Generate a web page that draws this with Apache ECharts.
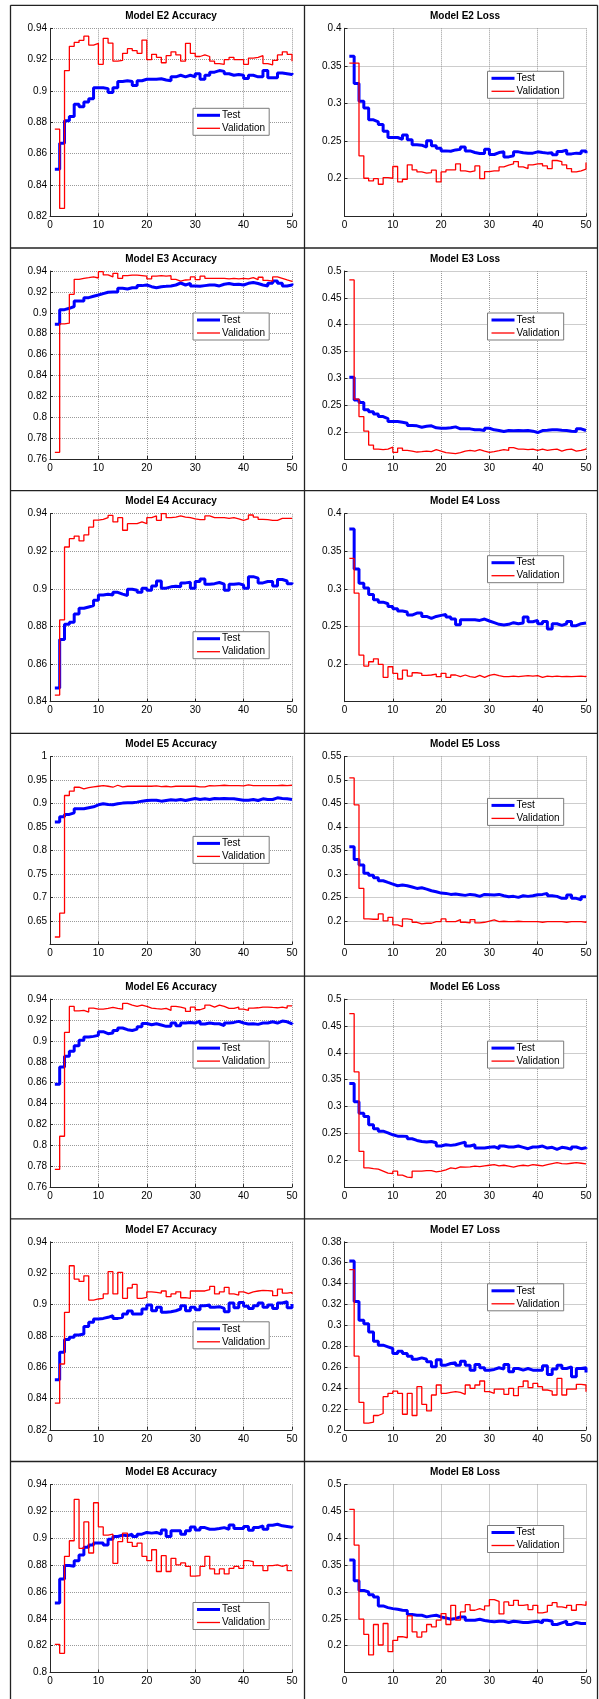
<!DOCTYPE html>
<html>
<head>
<meta charset="utf-8">
<script src="https://cdn.jsdelivr.net/npm/echarts@6/dist/echarts.min.js"></script>
<style>
  html, body { margin: 0; padding: 0; background: #fff; }
  #chart { width: 599px; height: 1699px; }
</style>
</head>
<body>
<div id="chart"></div>
<script>
// epochs 1..50
var epochs = [1,2,3,4,5,6,7,8,9,10,11,12,13,14,15,16,17,18,19,20,21,22,23,24,25,
  26,27,28,29,30,31,32,33,34,35,36,37,38,39,40,41,42,43,44,45,46,47,48,49,50];

var models = ['E2', 'E3', 'E4', 'E5', 'E6', 'E7', 'E8'];

// accuracy axes (min, max, tick step)
var accMin  = [0.82, 0.76, 0.84, 0.6, 0.76, 0.82, 0.8];
var accMax  = [0.94, 0.94, 0.94, 1, 0.94, 0.94, 0.94];
var accStep = [0.02, 0.02, 0.02, 0.05, 0.02, 0.02, 0.02];
var accMinLabel = [true, true, true, false, true, true, true];

// loss axes
var lossMin  = [0.15, 0.15, 0.15, 0.15, 0.15, 0.2, 0.15];
var lossMax  = [0.4, 0.5, 0.4, 0.55, 0.5, 0.38, 0.5];
var lossStep = [0.05, 0.05, 0.05, 0.05, 0.05, 0.02, 0.05];
var lossMinLabel = [false, false, false, false, false, true, false];

var e2AccTest = [0.850,0.8667,0.881,0.8837,0.8916,0.890,0.893,0.895,0.902,0.902,0.9015,0.899,0.902,0.906,0.9065,0.906,0.9035,0.9065,0.9075,0.9075,0.9075,0.9078,0.907,0.9065,0.909,0.910,0.909,0.910,0.909,0.911,0.9075,0.910,0.912,0.913,0.9125,0.911,0.910,0.9105,0.910,0.908,0.910,0.909,0.909,0.913,0.9085,0.9085,0.9115,0.911,0.9105,0.9115];
var e2AccVal = [0.8756,0.825,0.913,0.9285,0.931,0.9323,0.935,0.9293,0.9304,0.917,0.9336,0.9306,0.919,0.9195,0.924,0.927,0.9257,0.924,0.9325,0.920,0.9234,0.9215,0.918,0.9225,0.925,0.923,0.919,0.9304,0.924,0.922,0.923,0.922,0.919,0.9175,0.917,0.920,0.9215,0.920,0.920,0.917,0.921,0.9215,0.9225,0.9175,0.9166,0.9195,0.923,0.925,0.9234,0.919];
var e2LossTest = [0.3627,0.3267,0.303,0.294,0.2783,0.2757,0.272,0.263,0.2548,0.2548,0.2525,0.258,0.2517,0.245,0.2446,0.242,0.2504,0.2437,0.2406,0.237,0.2366,0.2383,0.239,0.242,0.237,0.2348,0.2335,0.2335,0.239,0.2322,0.2348,0.2357,0.229,0.2304,0.2357,0.2344,0.234,0.234,0.2357,0.2348,0.234,0.2344,0.2317,0.2361,0.238,0.233,0.234,0.2335,0.237,0.234];
var e2LossVal = [0.3538,0.3538,0.2304,0.2006,0.197,0.200,0.1926,0.2015,0.2006,0.2162,0.1957,0.1993,0.2184,0.2117,0.209,0.2073,0.2082,0.2113,0.1957,0.209,0.2117,0.2117,0.2197,0.2104,0.209,0.2104,0.217,0.200,0.2095,0.2104,0.2104,0.2157,0.218,0.2197,0.2228,0.2157,0.2135,0.2184,0.2197,0.220,0.217,0.2135,0.2242,0.2228,0.2184,0.2135,0.209,0.2104,0.2126,0.2215];

var e3AccTest = [0.889,0.903,0.9043,0.906,0.9113,0.9113,0.9145,0.9158,0.917,0.9183,0.9196,0.920,0.920,0.9234,0.9228,0.924,0.924,0.926,0.9266,0.925,0.924,0.925,0.9253,0.9257,0.9266,0.9285,0.9266,0.9282,0.9257,0.9253,0.926,0.9266,0.9266,0.9257,0.9273,0.928,0.927,0.9273,0.9266,0.9282,0.929,0.928,0.9266,0.9257,0.9282,0.9304,0.9282,0.9257,0.9266,0.928];
var e3AccVal = [0.7664,0.8893,0.890,0.9177,0.932,0.933,0.9336,0.9343,0.9333,0.9394,0.9362,0.9343,0.9378,0.933,0.9355,0.936,0.936,0.9355,0.935,0.9324,0.935,0.9355,0.935,0.9355,0.932,0.9304,0.9314,0.9317,0.9343,0.9317,0.935,0.933,0.933,0.933,0.933,0.9324,0.933,0.9324,0.933,0.9324,0.9336,0.9317,0.934,0.931,0.9304,0.9343,0.933,0.9314,0.930,0.931];
var e3LossTest = [0.302,0.2597,0.2554,0.2418,0.238,0.2338,0.2289,0.2252,0.2197,0.2197,0.2184,0.2166,0.2123,0.2117,0.2092,0.211,0.2117,0.208,0.2073,0.2073,0.208,0.2098,0.2061,0.2061,0.2061,0.2043,0.2043,0.203,0.2073,0.2043,0.203,0.2012,0.203,0.2024,0.203,0.2024,0.203,0.2018,0.1993,0.203,0.2036,0.2043,0.2043,0.2036,0.203,0.2018,0.2012,0.2061,0.203,0.2018];
var e3LossVal = [0.4834,0.2616,0.2289,0.2018,0.1759,0.1685,0.1673,0.1685,0.1722,0.1624,0.1704,0.166,0.1648,0.163,0.1636,0.1648,0.1636,0.1673,0.1648,0.1617,0.1611,0.1599,0.1617,0.1648,0.166,0.1648,0.1673,0.1648,0.1624,0.1636,0.1654,0.1673,0.166,0.171,0.1685,0.1685,0.1673,0.1685,0.166,0.1685,0.166,0.1673,0.1685,0.1648,0.1673,0.1685,0.1648,0.166,0.1685,0.170];

var e4AccTest = [0.8473,0.8731,0.8812,0.8823,0.8866,0.8897,0.8904,0.8911,0.894,0.8968,0.8972,0.8968,0.8982,0.8972,0.8965,0.8998,0.8993,0.8982,0.9004,0.8993,0.9016,0.9042,0.9004,0.9011,0.9014,0.9011,0.9032,0.9035,0.9004,0.9039,0.9053,0.9025,0.9028,0.9034,0.9025,0.8993,0.9025,0.9028,0.9021,0.9004,0.9065,0.9057,0.9032,0.9039,0.9039,0.9016,0.905,0.9042,0.9028,0.9034];
var e4AccVal = [0.8435,0.8835,0.9223,0.9267,0.9281,0.9255,0.9287,0.9329,0.9366,0.937,0.9379,0.9391,0.9356,0.9379,0.9312,0.9347,0.9347,0.9356,0.9347,0.9379,0.9388,0.9365,0.94,0.9379,0.9382,0.9388,0.9382,0.9379,0.9372,0.9368,0.9368,0.9388,0.9379,0.9379,0.9379,0.9375,0.9379,0.9373,0.9365,0.9372,0.9393,0.9382,0.937,0.9368,0.9365,0.9365,0.9375,0.9375,0.9375,0.9375];
var e4LossTest = [0.3797,0.3264,0.3075,0.3013,0.2925,0.2855,0.2824,0.2802,0.2767,0.2736,0.2705,0.2692,0.2652,0.2678,0.2678,0.2634,0.2608,0.2634,0.2648,0.2661,0.2626,0.2599,0.2524,0.259,0.259,0.259,0.2581,0.2599,0.2573,0.2551,0.2529,0.252,0.2529,0.2551,0.2537,0.2546,0.2626,0.2564,0.2581,0.2537,0.2568,0.2467,0.2537,0.2515,0.2537,0.2568,0.2511,0.2537,0.2546,0.2551];
var e4LossVal = [0.3405,0.2943,0.2119,0.1974,0.2031,0.207,0.1996,0.1824,0.1965,0.1877,0.1802,0.1921,0.1841,0.1885,0.1877,0.185,0.1855,0.1868,0.1833,0.1877,0.1824,0.1855,0.1833,0.1855,0.1833,0.1824,0.185,0.1824,0.185,0.1863,0.1846,0.1833,0.1833,0.1841,0.1833,0.1841,0.1846,0.1841,0.1846,0.1824,0.1841,0.1833,0.1841,0.1833,0.1837,0.1833,0.1837,0.1841,0.1833,0.1846];

var e5AccTest = [0.8604,0.8717,0.8766,0.880,0.8886,0.8886,0.8907,0.8928,0.897,0.8992,0.8977,0.897,0.8992,0.9006,0.9013,0.9013,0.9027,0.9048,0.9062,0.9069,0.9069,0.9048,0.9062,0.9076,0.9069,0.9083,0.9062,0.9083,0.9104,0.9083,0.9097,0.9083,0.9104,0.9097,0.9104,0.9097,0.9097,0.9083,0.9069,0.9069,0.9083,0.9062,0.9097,0.9083,0.9083,0.9118,0.9104,0.9097,0.9083,0.9083];
var e5AccVal = [0.6157,0.6664,0.9168,0.926,0.9344,0.9309,0.9337,0.9351,0.9365,0.9379,0.9365,0.9344,0.9386,0.9351,0.9365,0.9365,0.9365,0.9365,0.9365,0.9365,0.9372,0.9358,0.9365,0.9351,0.9365,0.9365,0.9365,0.9365,0.9365,0.9351,0.9351,0.9379,0.9372,0.9379,0.9386,0.9379,0.9379,0.9379,0.9372,0.9394,0.9379,0.9379,0.9379,0.9379,0.9379,0.9379,0.9386,0.9379,0.9386,0.9379];
var e5LossTest = [0.358,0.3305,0.3192,0.3016,0.2973,0.2917,0.2854,0.2818,0.2783,0.2748,0.2762,0.2748,0.272,0.2691,0.2705,0.2677,0.2642,0.2621,0.2592,0.2585,0.2564,0.2571,0.2557,0.2543,0.2564,0.255,0.2522,0.2564,0.2557,0.255,0.2564,0.2536,0.2515,0.2522,0.2501,0.2536,0.2522,0.2536,0.2557,0.2564,0.2585,0.2536,0.2522,0.248,0.248,0.255,0.248,0.2451,0.2515,0.2515];
var e5LossVal = [0.5041,0.447,0.2691,0.2042,0.2035,0.2035,0.2148,0.200,0.2077,0.1915,0.188,0.2042,0.2028,0.1971,0.1936,0.195,0.195,0.1986,0.1986,0.2042,0.1986,0.1986,0.2028,0.1971,0.1957,0.2028,0.1957,0.1971,0.1993,0.2021,0.1986,0.1993,0.1986,0.1986,0.1993,0.1986,0.1986,0.1986,0.1986,0.1971,0.1986,0.1986,0.1986,0.1986,0.1971,0.1986,0.1986,0.1986,0.1971,0.1993];

var e6AccTest = [0.8584,0.875,0.8852,0.89,0.8954,0.9005,0.9037,0.9043,0.9053,0.9088,0.9069,0.9075,0.91,0.9123,0.9107,0.91,0.9113,0.9136,0.9167,0.9155,0.9164,0.9152,0.9139,0.9139,0.9171,0.9145,0.9171,0.9177,0.9171,0.919,0.9161,0.9171,0.9164,0.9164,0.9145,0.9171,0.9177,0.9187,0.9171,0.9161,0.9164,0.9158,0.9171,0.9171,0.9183,0.9171,0.919,0.9183,0.9164,0.9171];
var e6AccVal = [0.7769,0.8087,0.9081,0.933,0.9288,0.9292,0.9276,0.9314,0.9304,0.9304,0.9311,0.932,0.9311,0.9304,0.9359,0.9343,0.933,0.9343,0.933,0.9314,0.9308,0.9304,0.9311,0.9292,0.933,0.9324,0.9311,0.9282,0.9324,0.9298,0.9314,0.9343,0.9324,0.9343,0.933,0.9311,0.9311,0.9324,0.9304,0.9292,0.9314,0.9317,0.9324,0.9324,0.932,0.9317,0.9324,0.9314,0.9336,0.934];
var e6LossTest = [0.3429,0.309,0.2874,0.2813,0.2659,0.2585,0.2542,0.2511,0.2474,0.2449,0.2449,0.2443,0.24,0.2369,0.235,0.2338,0.235,0.2326,0.2264,0.2289,0.2277,0.2289,0.2314,0.2338,0.2264,0.2289,0.2227,0.2227,0.224,0.2252,0.2215,0.2264,0.2246,0.2246,0.2264,0.224,0.2215,0.2246,0.2246,0.2264,0.2227,0.224,0.2203,0.224,0.2227,0.2203,0.2246,0.2215,0.2234,0.2215];
var e6LossVal = [0.4729,0.3644,0.2166,0.1858,0.1845,0.1833,0.1796,0.1759,0.1753,0.1796,0.1722,0.1685,0.1679,0.1796,0.1796,0.1808,0.1808,0.1784,0.1796,0.1821,0.1858,0.1845,0.1876,0.187,0.1876,0.1889,0.1882,0.1895,0.1907,0.1919,0.1895,0.1907,0.1889,0.187,0.1895,0.1907,0.1895,0.1919,0.1907,0.1895,0.1919,0.1938,0.1956,0.1938,0.1932,0.1944,0.1956,0.1944,0.1932,0.1932];

var e7AccTest = [0.8519,0.8695,0.8776,0.879,0.8805,0.8812,0.886,0.8886,0.8907,0.8911,0.8918,0.8928,0.8911,0.8918,0.8939,0.8958,0.8939,0.8939,0.8971,0.8996,0.896,0.8982,0.895,0.8954,0.896,0.8971,0.8992,0.896,0.8982,0.8967,0.8992,0.8996,0.8982,0.8986,0.8975,0.8954,0.9009,0.8979,0.9013,0.8988,0.8975,0.8992,0.9009,0.8982,0.8996,0.8975,0.9009,0.9018,0.8979,0.9003];
var e7AccVal = [0.837,0.862,0.895,0.9247,0.9162,0.9147,0.9183,0.9028,0.9035,0.9039,0.9067,0.9209,0.9067,0.9205,0.9039,0.9105,0.9128,0.9039,0.9045,0.9081,0.9077,0.9073,0.9086,0.905,0.9067,0.9081,0.9043,0.9039,0.9086,0.9086,0.9086,0.9094,0.9115,0.9067,0.9081,0.9109,0.9067,0.906,0.9081,0.9069,0.9081,0.9086,0.909,0.9088,0.9086,0.9056,0.9098,0.9073,0.9077,0.9067];
var e7LossTest = [0.3616,0.3229,0.3048,0.3016,0.2937,0.2848,0.281,0.2794,0.2778,0.273,0.2752,0.273,0.2705,0.2676,0.2689,0.2676,0.2651,0.2603,0.267,0.2619,0.2635,0.2641,0.2619,0.2657,0.2619,0.2571,0.2625,0.2594,0.2571,0.2578,0.2594,0.2581,0.2625,0.2556,0.2587,0.2571,0.2587,0.2571,0.2571,0.2571,0.2613,0.253,0.2581,0.2619,0.2587,0.2603,0.2508,0.2587,0.2594,0.2549];
var e7LossVal = [0.3533,0.2705,0.2263,0.2063,0.2073,0.2137,0.2156,0.2317,0.2349,0.2371,0.2349,0.2149,0.2349,0.2137,0.2413,0.2244,0.2181,0.2333,0.2429,0.2349,0.2359,0.2365,0.2359,0.234,0.2429,0.2397,0.2429,0.2467,0.2365,0.2349,0.239,0.239,0.234,0.2397,0.2327,0.2413,0.2467,0.2403,0.2444,0.2413,0.2381,0.2371,0.2333,0.2492,0.2333,0.239,0.239,0.2435,0.2429,0.2365];

var e8AccTest = [0.8518,0.8697,0.8796,0.8791,0.8833,0.8875,0.8932,0.8949,0.8964,0.8964,0.8949,0.8993,0.9013,0.9023,0.9018,0.903,0.9013,0.903,0.9043,0.9038,0.9043,0.903,0.9062,0.9013,0.9055,0.9055,0.903,0.9055,0.9084,0.9062,0.9079,0.9067,0.9067,0.9072,0.9079,0.9067,0.9099,0.9072,0.9072,0.9087,0.906,0.9079,0.9092,0.9067,0.9097,0.9104,0.9092,0.9087,0.9082,0.9092];
var e8AccVal = [0.821,0.8143,0.8865,0.8981,0.9289,0.8924,0.9121,0.889,0.9264,0.9084,0.9023,0.903,0.8813,0.8974,0.9038,0.8969,0.8939,0.8964,0.8865,0.8833,0.8914,0.8752,0.887,0.8752,0.885,0.8801,0.8816,0.8791,0.8717,0.8722,0.8791,0.8865,0.8771,0.8734,0.8771,0.8734,0.8776,0.8791,0.8776,0.8833,0.8826,0.8796,0.8796,0.8759,0.8796,0.8801,0.8791,0.8801,0.8759,0.8759];
var e8LossTest = [0.3595,0.3207,0.3028,0.2998,0.2948,0.2905,0.2739,0.2708,0.2689,0.2677,0.2659,0.2653,0.2579,0.2566,0.2566,0.2535,0.2554,0.2566,0.2535,0.2517,0.2492,0.2505,0.2535,0.2535,0.2474,0.2474,0.2492,0.2468,0.2455,0.2443,0.2455,0.2455,0.2431,0.2455,0.2443,0.2431,0.2431,0.2443,0.2455,0.2425,0.2474,0.2455,0.2394,0.2425,0.2455,0.2394,0.2431,0.2412,0.2412,0.2412];
var e8LossVal = [0.4538,0.3872,0.2492,0.2209,0.1827,0.2394,0.2012,0.2412,0.1888,0.2098,0.2166,0.2147,0.2554,0.2258,0.216,0.2258,0.2394,0.2351,0.2474,0.2597,0.2394,0.2751,0.2474,0.2628,0.2763,0.2659,0.2689,0.2659,0.2739,0.2856,0.2825,0.2591,0.2813,0.2751,0.2844,0.2751,0.2763,0.2671,0.2751,0.2609,0.2628,0.2751,0.28,0.272,0.2702,0.2751,0.2659,0.2763,0.2751,0.2825];

var accTest  = [e2AccTest, e3AccTest, e4AccTest, e5AccTest, e6AccTest, e7AccTest, e8AccTest];
var accVal   = [e2AccVal, e3AccVal, e4AccVal, e5AccVal, e6AccVal, e7AccVal, e8AccVal];
var lossTest = [e2LossTest, e3LossTest, e4LossTest, e5LossTest, e6LossTest, e7LossTest, e8LossTest];
var lossVal  = [e2LossVal, e3LossVal, e4LossVal, e5LossVal, e6LossVal, e7LossVal, e8LossVal];

// layout
var FONT = 'Liberation Sans, Arial, Helvetica, sans-serif';
var ROW0 = 5.3, ROWH = 242.7;
var legendDyAcc  = [103, 65, 141, 103, 65, 103, 141];
var legendDyLoss = [66, 65, 65, 65, 65, 65, 64];
var cols = [
  { left: 50, width: 242, mid: 171, legendX: 193 },
  { left: 344.5, width: 241.5, mid: 465, legendX: 487.5 }
];
// legend swatches: thick blue bar, thin red bar
var ICON_TEST = 'path://M0,0h23v3h-23z';
var ICON_VAL = 'path://M0,0h23v1.3h-23z';

function tickFmt(v) { return String(+v.toFixed(2)); }

(function () {
  var chart = echarts.init(document.getElementById('chart'), null, { renderer: 'canvas' });
  var grid = [], xAxis = [], yAxis = [], series = [], title = [], legend = [], graphic = [];

  for (var r = 0; r < models.length; r++) {
    var rowTop = ROW0 + ROWH * r;
    for (var c = 0; c < 2; c++) {
      var idx = r * 2 + c;
      var col = cols[c];
      var isAcc = c === 0;
      grid.push({ left: col.left, top: rowTop + 23, width: col.width, height: 188 });

      title.push({
        text: 'Model ' + models[r] + (isAcc ? ' Accuracy' : ' Loss'),
        left: col.mid, top: rowTop + 6, textAlign: 'center', padding: 0,
        textStyle: { fontSize: 10, fontWeight: 'bold', color: '#000', fontFamily: FONT }
      });

      xAxis.push({
        type: 'value', gridIndex: idx, min: 0, max: 50, interval: 10,
        axisLine: { show: true, onZero: false, lineStyle: { color: '#262626', width: 1 } },
        axisTick: { show: true, inside: true, length: 3, lineStyle: { color: '#262626' } },
        axisLabel: { fontSize: 10, color: '#000', margin: 4, fontFamily: FONT },
        splitLine: { show: true, lineStyle: { type: 'dotted', color: '#9a9a9a', width: 1 } }
      });

      yAxis.push({
        type: 'value', gridIndex: idx,
        min: isAcc ? accMin[r] : lossMin[r],
        max: isAcc ? accMax[r] : lossMax[r],
        interval: isAcc ? accStep[r] : lossStep[r],
        axisLine: { show: true, onZero: false, lineStyle: { color: '#262626', width: 1 } },
        axisTick: { show: true, inside: true, length: 3, lineStyle: { color: '#262626' } },
        axisLabel: {
          fontSize: 10, color: '#000', margin: 3, fontFamily: FONT, formatter: tickFmt,
          showMinLabel: isAcc ? accMinLabel[r] : lossMinLabel[r], showMaxLabel: true
        },
        splitLine: { show: true, lineStyle: { type: 'dotted', color: '#9a9a9a', width: 1 } }
      });

      var tArr = isAcc ? accTest[r] : lossTest[r];
      var vArr = isAcc ? accVal[r] : lossVal[r];
      series.push({
        name: 'Test', type: 'line', step: 'end', xAxisIndex: idx, yAxisIndex: idx,
        symbol: 'none', silent: true, animation: false,
        lineStyle: { color: '#0000ff', width: 3 }, itemStyle: { color: '#0000ff' },
        data: epochs.map(function (e, i) { return [e, tArr[i]]; })
      });
      series.push({
        name: 'Validation', type: 'line', step: 'end', xAxisIndex: idx, yAxisIndex: idx,
        symbol: 'none', silent: true, animation: false,
        lineStyle: { color: '#ff0000', width: 1.3 }, itemStyle: { color: '#ff0000' },
        data: epochs.map(function (e, i) { return [e, vArr[i]]; })
      });

      legend.push({
        data: [
          { name: 'Test', icon: ICON_TEST, itemStyle: { color: '#0000ff' } },
          { name: 'Validation', icon: ICON_VAL, itemStyle: { color: '#ff0000' } }
        ],
        orient: 'vertical', selectedMode: false,
        left: col.legendX, top: rowTop + (isAcc ? legendDyAcc[r] : legendDyLoss[r]),
        itemWidth: 23, itemHeight: 10, itemGap: 3, padding: [2, 4, 2, 4],
        backgroundColor: '#fff', borderColor: '#7a7a7a', borderWidth: 1,
        textStyle: { fontSize: 10, color: '#000', fontFamily: FONT, padding: [0, 0, 0, -3] }
      });
    }
  }

  // panel frames
  var frame = { stroke: '#222', lineWidth: 1.3 };
  [10.5, 304.5, 597.5].forEach(function (x) {
    graphic.push({ type: 'line', silent: true, z: 100, shape: { x1: x, y1: ROW0, x2: x, y2: 1699 }, style: frame });
  });
  for (var k = 0; k <= models.length; k++) {
    var y = ROW0 + ROWH * k;
    graphic.push({ type: 'line', silent: true, z: 100, shape: { x1: 10.5, y1: y, x2: 597.5, y2: y }, style: frame });
  }

  chart.setOption({
    backgroundColor: '#fff',
    animation: false,
    title: title,
    legend: legend,
    grid: grid,
    xAxis: xAxis,
    yAxis: yAxis,
    series: series,
    graphic: graphic
  });
})();
</script>
</body>
</html>
